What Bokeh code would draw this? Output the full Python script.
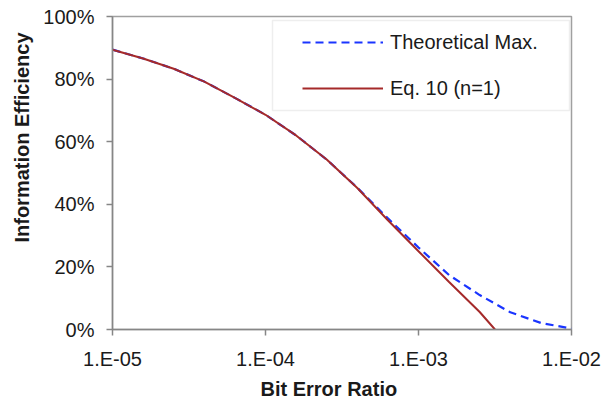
from bokeh.plotting import figure
from bokeh.models import (FixedTicker, CustomJSTickFormatter, Legend, LegendItem,
                          BoxAnnotation, Title, Range1d)
from bokeh.embed import file_html
from bokeh.resources import INLINE

# ---- data ----
ber_theory = [1.0e-5, 1.585e-5, 2.512e-5, 3.981e-5, 6.310e-5, 1.0e-4, 1.585e-4, 2.512e-4,
              3.981e-4, 6.310e-4, 1.0e-3, 1.585e-3, 2.512e-3, 3.981e-3, 6.310e-3, 1.0e-2]
eff_theory = [89.4, 86.6, 83.3, 79.2, 74.0, 68.6, 62.0, 54.3,
              45.3, 35.5, 26.2, 17.4, 11.0, 5.5, 2.1, 0.3]

ber_eq10 = [1.0e-5, 1.585e-5, 2.512e-5, 3.981e-5, 6.310e-5, 1.0e-4, 1.585e-4, 2.512e-4,
            3.981e-4, 6.310e-4, 1.0e-3, 1.585e-3, 2.512e-3, 3.162e-3]
eff_eq10 = [89.4, 86.6, 83.3, 79.2, 74.0, 68.6, 62.0, 54.3,
            45.2, 34.9, 25.0, 15.2, 5.6, 0.0]

x_ticks = [1e-5, 1e-4, 1e-3, 1e-2]
y_ticks = [0, 20, 40, 60, 80, 100]

series_names = ["Theoretical Max.", "Eq. 10 (n=1)"]
x_title = "Bit Error Ratio"
y_title = "Information Efficiency"

FONT = "Liberation Sans"
AXIS_GRAY = "#868686"
TEXT = "#1a1a1a"

p = figure(width=605, height=403, x_axis_type="log",
           x_range=Range1d(1e-5, 1e-2), y_range=Range1d(0, 100),
           output_backend="svg", toolbar_location=None,
           min_border_left=112, min_border_right=34, min_border_top=16, min_border_bottom=74)

r1 = p.line(ber_theory, eff_theory, line_color="#1a35ff", line_width=2.2, line_dash="8 5")
r2 = p.line(ber_eq10, eff_eq10, line_color="#a52a2a", line_width=2)

p.xaxis.ticker = FixedTicker(ticks=x_ticks, minor_ticks=[])
p.yaxis.ticker = FixedTicker(ticks=y_ticks, minor_ticks=[])
p.xaxis.formatter = CustomJSTickFormatter(code="""
const e = Math.round(Math.log10(tick));
const s = Math.abs(e).toString().padStart(2, '0');
return '1.E' + (e < 0 ? '-' : '+') + s;
""")
p.yaxis.formatter = CustomJSTickFormatter(code="return tick.toFixed(0) + '%';")

for ax in (p.xaxis[0], p.yaxis[0]):
    ax.axis_line_color = AXIS_GRAY
    ax.axis_line_width = 1.5
    ax.major_tick_line_color = AXIS_GRAY
    ax.major_tick_line_width = 1.5
    ax.major_tick_out = 6
    ax.major_tick_in = 0
    ax.minor_tick_out = 0
    ax.minor_tick_in = 0
    ax.major_label_text_font = FONT
    ax.major_label_text_font_size = "20px"
    ax.major_label_text_color = TEXT
    ax.major_label_standoff = 12

p.xgrid.visible = False
p.ygrid.visible = False
p.outline_line_color = "#a0a0a0"
p.outline_line_width = 1.5

p.add_layout(Title(text=y_title, align="right", offset=16, standoff=16, text_font=FONT,
                   text_font_size="20px", text_font_style="bold", text_color=TEXT), "left")
p.add_layout(Title(text=x_title, align="left", offset=148, standoff=6, text_font=FONT,
                   text_font_size="20px", text_font_style="bold", text_color=TEXT), "below")

legend = Legend(items=[LegendItem(label=series_names[0], renderers=[r1]),
                       LegendItem(label=series_names[1], renderers=[r2])],
                location=(190, 229), padding=0, spacing=22, margin=0,
                glyph_width=81, glyph_height=24, label_height=24, label_standoff=7,
                border_line_alpha=0, background_fill_alpha=0,
                label_text_font=FONT, label_text_font_size="20px", label_text_color=TEXT)
p.add_layout(legend)

p.add_layout(BoxAnnotation(left=160, right=457, bottom=219, top=309,
                           left_units="screen", right_units="screen",
                           top_units="screen", bottom_units="screen",
                           fill_alpha=0, line_color="#c8c8c8", line_width=1.5))

open("out.html", "w").write(file_html(p, INLINE))
